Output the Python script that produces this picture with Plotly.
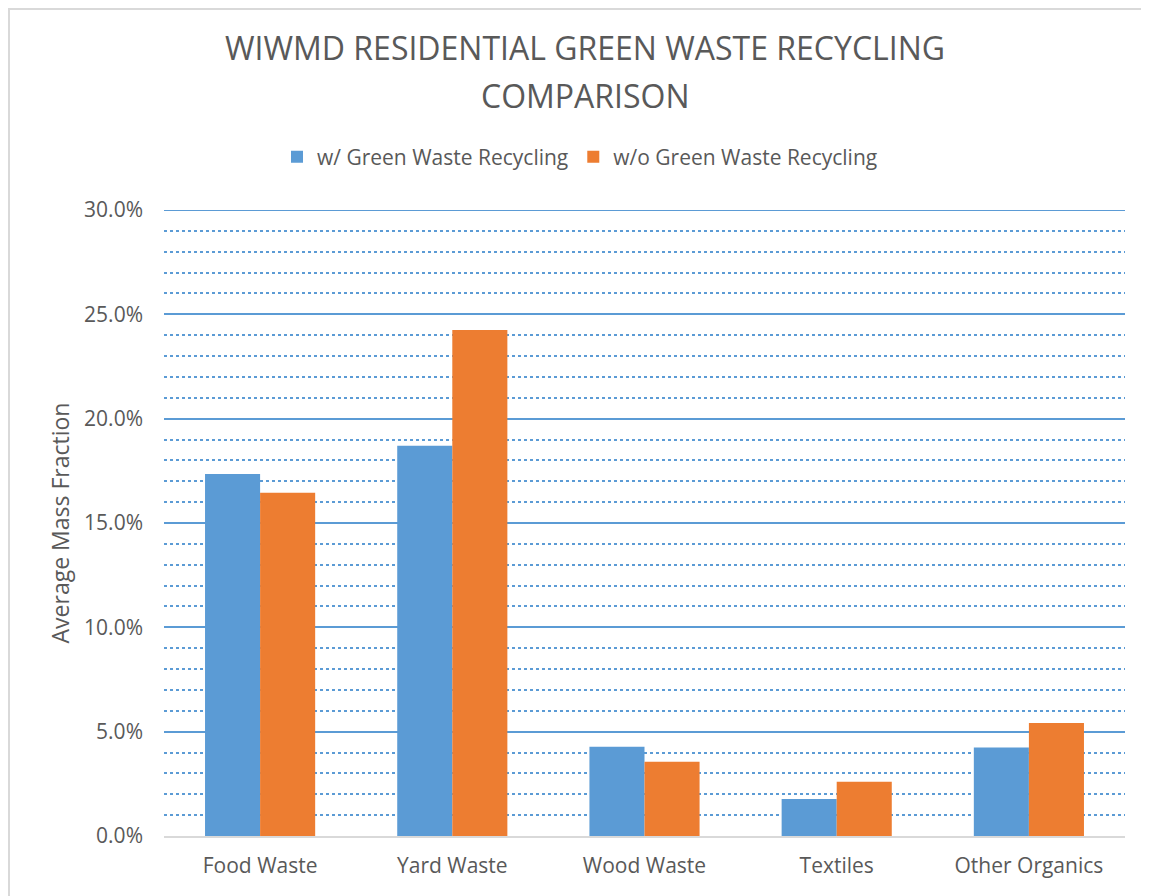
import plotly.graph_objects as go

categories = ["Food Waste", "Yard Waste", "Wood Waste", "Textiles", "Other Organics"]
with_gwr = [0.1735, 0.1870, 0.0428, 0.0177, 0.0424]
without_gwr = [0.1645, 0.2425, 0.0356, 0.0260, 0.0542]
series_names = ["w/ Green Waste Recycling", "w/o Green Waste Recycling"]
title_lines = ["WIWMD RESIDENTIAL GREEN WASTE RECYCLING", "COMPARISON"]
y_ticks = [0, 0.05, 0.10, 0.15, 0.20, 0.25, 0.30]
y_tick_labels = ["0.0%", "5.0%", "10.0%", "15.0%", "20.0%", "25.0%", "30.0%"]

W, H = 1149, 896
ML, MT = 156, 202
PW, PH = 961, 626
MR = W - ML - PW
MB = H - MT - PH
FONT = "Open Sans"
GREY = "#595959"
BLUE = "#5B9BD5"
ORANGE = "#ED7D31"

def px2x(px):
    return (px - ML) / PW

def py2y(py):
    return 1 - (py - MT) / PH

fig = go.Figure()
fig.add_trace(go.Bar(x=categories, y=with_gwr, name=series_names[0],
                     marker=dict(color=BLUE, line=dict(width=0))))
fig.add_trace(go.Bar(x=categories, y=without_gwr, name=series_names[1],
                     marker=dict(color=ORANGE, line=dict(width=0))))

# chart area border
fig.add_shape(type="rect", xref="paper", yref="paper",
              x0=px2x(1), x1=px2x(1170), y0=py2y(910), y1=py2y(1),
              line=dict(color="#D9D9D9", width=2), fillcolor="rgba(0,0,0,0)", layer="below")

# top major gridline (at the axis maximum)
fig.add_shape(type="line", xref="paper", yref="y", x0=0, x1=1,
              y0=y_ticks[-1], y1=y_ticks[-1], line=dict(color=BLUE, width=2), layer="below")

# title (two lines)
for line, ypx in zip(title_lines, [39, 87]):
    fig.add_annotation(text=line, xref="paper", yref="paper",
                       x=px2x(577), y=py2y(ypx), xanchor="center", yanchor="middle",
                       showarrow=False, font=dict(size=32, color=GREY, family=FONT))

fig.update_layout(
    width=W, height=H,
    margin=dict(l=ML, r=MR, t=MT, b=MB),
    paper_bgcolor="white", plot_bgcolor="white",
    barmode="group", bargap=0.427, bargroupgap=0,
    font=dict(family=FONT, color=GREY),
    legend=dict(orientation="h", x=px2x(572), xanchor="center", y=py2y(149),
                yanchor="middle", font=dict(size=21, color=GREY),
                traceorder="normal"),
    xaxis=dict(showgrid=False, showline=True, linecolor="#D9D9D9", linewidth=2,
               tickfont=dict(size=21, color=GREY), ticks="", ticklabelstandoff=10),
    yaxis=dict(range=[0, 0.30], tickvals=y_ticks, ticktext=y_tick_labels,
               showgrid=True, gridcolor=BLUE, gridwidth=2,
               zeroline=False, showline=False, ticks="",
               tickfont=dict(size=21, color=GREY), ticklabelstandoff=20,
               title=dict(text="Average Mass Fraction", font=dict(size=23, color=GREY), standoff=8),
               minor=dict(dtick=0.01, showgrid=True, gridcolor=BLUE, gridwidth=1.5,
                          griddash="dot")),
)

fig.write_html("out.html")
